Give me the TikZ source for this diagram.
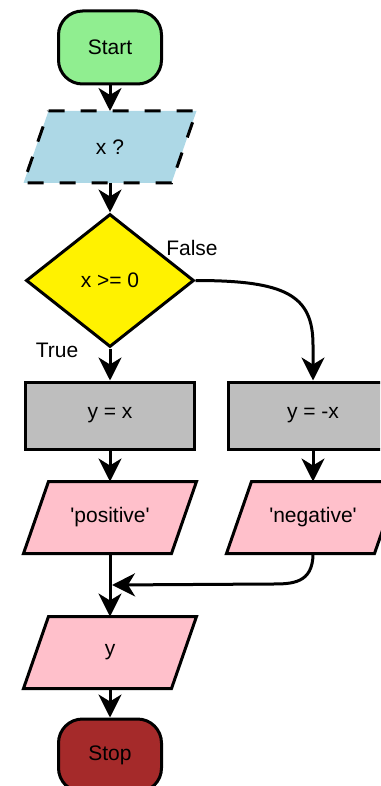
\documentclass[tikz,border=0pt]{standalone}
\usepackage{fontspec}
\setmainfont{Liberation Sans}
\usetikzlibrary{arrows.meta,shapes.geometric}
\definecolor{startgreen}{RGB}{144,238,144}
\definecolor{inblue}{RGB}{173,216,230}
\definecolor{procgray}{RGB}{190,190,190}
\definecolor{outpink}{RGB}{255,192,203}
\definecolor{stopbrown}{RGB}{165,42,42}
\pgfdeclarelayer{background}
\pgfsetlayers{background,main}
\begin{document}
\begin{tikzpicture}[x=1pt,y=1pt,
  base/.style={draw=black, line width=3pt, inner sep=0pt, font=\fontsize{21}{25}\selectfont},
  term/.style={base, rectangle, rounded corners=24pt, minimum width=103pt, minimum height=73pt},
  io/.style={base, draw=none, rectangle, minimum width=170pt, minimum height=69pt},
  iofill/.style={draw=black, line width=3pt, line join=miter},
  proc/.style={base, rectangle, minimum width=169pt, minimum height=67pt, fill=procgray},
  decision/.style={base, diamond, minimum width=168pt, minimum height=133pt, fill=yellow},
  arr/.style={line width=3pt, -{Stealth[length=23pt,width=23pt,inset=7pt]}},
  lbl/.style={font=\fontsize{21}{25}\selectfont, inner sep=0pt}
]
\useasboundingbox (0,0) rectangle (380,-786);
\clip (0,0) rectangle (380,-786);

\node[term, fill=startgreen] (start) at (110,-47.5) {Start};
\node[io] (inp) at (110,-147) {x ?};
\node[decision] (dec) at (110,-280.5) {x >= 0};
\node[proc] (yx) at (110,-415.5) {y = x};
\node[proc] (ynx) at (313,-415.5) {y = -x};
\node[io] (pos) at (110,-517.5) {\textquotesingle positive\textquotesingle};
\node[io] (neg) at (313,-517.5) {\textquotesingle negative\textquotesingle};
\node[io] (yout) at (110,-652.5) {y};
\node[term, fill=stopbrown] (stop) at (110,-755.5) {Stop};

\begin{pgfonlayer}{background}
\path[iofill, fill=inblue, dash pattern=on 16pt off 16pt]
  ([xshift=25pt]inp.north west) -- (inp.north east) -- ([xshift=-25pt]inp.south east) -- (inp.south west) -- cycle;
\foreach \n in {pos,neg,yout}
  \path[iofill, fill=outpink]
    ([xshift=25pt]\n.north west) -- (\n.north east) -- ([xshift=-25pt]\n.south east) -- (\n.south west) -- cycle;
\end{pgfonlayer}

\node[lbl] (lfalse) at (192,-248) {False};
\node[lbl] (ltrue) at (57,-350) {True};

\coordinate (fbend) at (313,-345);
\coordinate (mbend) at (272,-584);
\coordinate (merge) at (112,-585);

\draw[arr] (start) -- (inp);
\draw[arr] (inp) -- (dec);
\draw[arr] (dec) -- (yx);
\draw[arr] (dec.east) .. controls +(90,0) and +(0,50) .. (fbend) -- (ynx.north);
\draw[arr] (yx) -- (pos);
\draw[arr] (ynx) -- (neg);
\draw[arr] (neg.south) .. controls +(0,-30) and +(20,0) .. (mbend) -- (merge);
\draw[arr] (pos) -- (yout);
\draw[arr] (yout) -- (stop);
\end{tikzpicture}
\end{document}
